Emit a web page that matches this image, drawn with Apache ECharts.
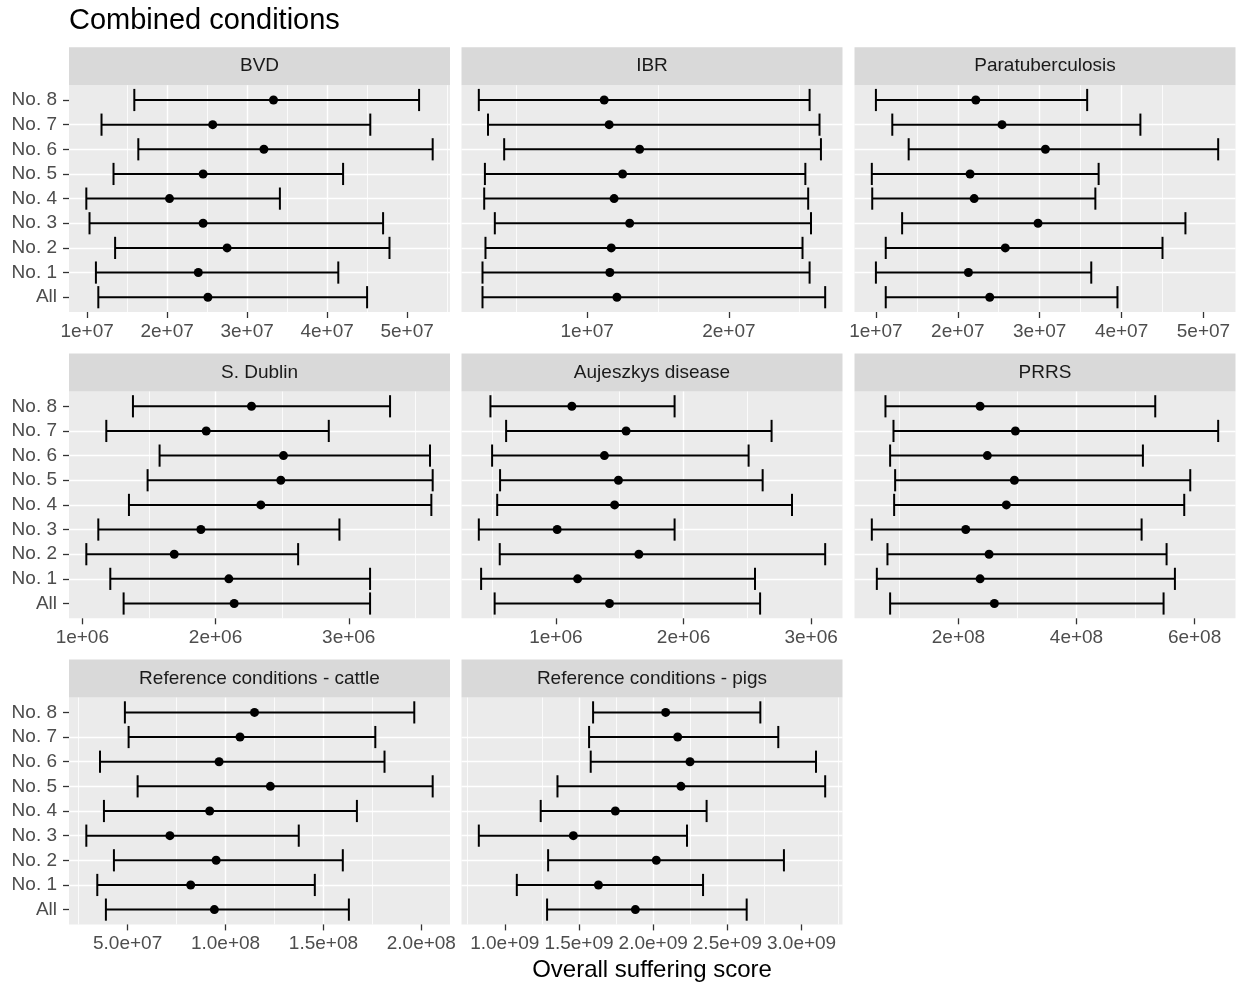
<!DOCTYPE html>
<html><head><meta charset="utf-8">
<script src="https://cdn.jsdelivr.net/npm/echarts@6/dist/echarts.min.js"></script>
<style>html,body{margin:0;padding:0;background:#fff}#chart{width:1242px;height:988px}</style>
</head><body><div id="chart"></div>
<script>
// ---------------- data ----------------
const categories = ['All', 'No. 1', 'No. 2', 'No. 3', 'No. 4', 'No. 5', 'No. 6', 'No. 7', 'No. 8'];
const panelNames = ['BVD', 'IBR', 'Paratuberculosis', 'S. Dublin', 'Aujeszkys disease', 'PRRS',
  'Reference conditions - cattle', 'Reference conditions - pigs'];

const bvdLow  = [1.14e7, 1.11e7, 1.35e7, 1.03e7, 0.99e7, 1.33e7, 1.64e7, 1.18e7, 1.59e7];
const bvdMid  = [2.51e7, 2.39e7, 2.75e7, 2.45e7, 2.03e7, 2.45e7, 3.21e7, 2.57e7, 3.33e7];
const bvdHigh = [4.50e7, 4.14e7, 4.78e7, 4.70e7, 3.41e7, 4.20e7, 5.32e7, 4.54e7, 5.15e7];

const ibrLow  = [0.261e7, 0.261e7, 0.282e7, 0.348e7, 0.273e7, 0.278e7, 0.414e7, 0.300e7, 0.235e7];
const ibrMid  = [1.21e7, 1.16e7, 1.17e7, 1.30e7, 1.19e7, 1.25e7, 1.37e7, 1.155e7, 1.12e7];
const ibrHigh = [2.68e7, 2.57e7, 2.52e7, 2.58e7, 2.56e7, 2.54e7, 2.65e7, 2.64e7, 2.57e7];

const paraLow  = [1.12e7, 1.00e7, 1.12e7, 1.32e7, 0.955e7, 0.95e7, 1.40e7, 1.20e7, 1.00e7];
const paraMid  = [2.39e7, 2.13e7, 2.58e7, 2.98e7, 2.20e7, 2.15e7, 3.07e7, 2.54e7, 2.22e7];
const paraHigh = [3.95e7, 3.63e7, 4.50e7, 4.78e7, 3.68e7, 3.72e7, 5.18e7, 4.23e7, 3.58e7];

const dublinLow  = [1.31e6, 1.21e6, 1.03e6, 1.12e6, 1.35e6, 1.49e6, 1.58e6, 1.18e6, 1.38e6];
const dublinMid  = [2.14e6, 2.10e6, 1.69e6, 1.89e6, 2.34e6, 2.49e6, 2.51e6, 1.93e6, 2.27e6];
const dublinHigh = [3.16e6, 3.16e6, 2.62e6, 2.93e6, 3.62e6, 3.63e6, 3.61e6, 2.85e6, 3.31e6];

const aujLow  = [0.52e6, 0.414e6, 0.56e6, 0.396e6, 0.54e6, 0.5625e6, 0.50e6, 0.61e6, 0.487e6];
const aujMid  = [1.42e6, 1.17e6, 1.65e6, 1.01e6, 1.46e6, 1.49e6, 1.38e6, 1.55e6, 1.125e6];
const aujHigh = [2.60e6, 2.56e6, 3.11e6, 1.93e6, 2.85e6, 2.62e6, 2.51e6, 2.69e6, 1.93e6];

const prrsLow  = [0.843e8, 0.618e8, 0.798e8, 0.533e8, 0.911e8, 0.928e8, 0.843e8, 0.90e8, 0.764e8];
const prrsMid  = [2.609e8, 2.367e8, 2.519e8, 2.124e8, 2.812e8, 2.948e8, 2.49e8, 2.965e8, 2.367e8];
const prrsHigh = [5.475e8, 5.667e8, 5.526e8, 5.103e8, 5.825e8, 5.927e8, 5.125e8, 6.40e8, 5.334e8];

const cattleLow  = [0.389e8, 0.345e8, 0.43e8, 0.289e8, 0.379e8, 0.551e8, 0.359e8, 0.505e8, 0.486e8];
const cattleMid  = [0.943e8, 0.822e8, 0.952e8, 0.716e8, 0.919e8, 1.229e8, 0.967e8, 1.074e8, 1.148e8];
const cattleHigh = [1.63e8, 1.456e8, 1.599e8, 1.374e8, 1.671e8, 2.058e8, 1.812e8, 1.765e8, 1.964e8];

const pigsLow  = [1.285e9, 1.081e9, 1.292e9, 0.825e9, 1.242e9, 1.355e9, 1.579e9, 1.568e9, 1.595e9];
const pigsMid  = [1.88e9, 1.631e9, 2.021e9, 1.462e9, 1.745e9, 2.187e9, 2.248e9, 2.165e9, 2.084e9];
const pigsHigh = [2.63e9, 2.336e9, 2.881e9, 2.228e9, 2.36e9, 3.159e9, 3.097e9, 2.843e9, 2.722e9];

// tick step and number of mantissa digits for each panel's x labels
const tickStep   = [1e7, 1e7, 1e7, 1e6, 1e6, 2e8, 5e7, 5e8];
const tickDigits = [0, 0, 0, 0, 0, 0, 1, 1];

const titleText = 'Combined conditions';
const xAxisTitle = 'Overall suffering score';

// ---------------- layout ----------------
const lows  = [bvdLow, ibrLow, paraLow, dublinLow, aujLow, prrsLow, cattleLow, pigsLow];
const mids  = [bvdMid, ibrMid, paraMid, dublinMid, aujMid, prrsMid, cattleMid, pigsMid];
const highs = [bvdHigh, ibrHigh, paraHigh, dublinHigh, aujHigh, prrsHigh, cattleHigh, pigsHigh];

const FONT = '"Liberation Sans", Arial, Helvetica, sans-serif';
const colLeft = [69, 461.5, 854.5];
const colWidth = 381;
const rowTop = [85.2, 391.5, 697.6];
const plotH = 226.8;
const stripH = 38;
const capHalf = 0.45;

function sciLabel(v, d) {
  if (v === 0) return '0';
  const e = Math.floor(Math.log10(Math.abs(v)) + 1e-9);
  const m = v / Math.pow(10, e);
  return m.toFixed(d) + 'e' + (e < 0 ? '-' : '+') + String(Math.abs(e)).padStart(2, '0');
}

const grids = [], xAxes = [], yAxes = [], series = [], graphics = [];
const yVals = categories.map((c, i) => i);

panelNames.forEach((name, p) => {
  const r = Math.floor(p / 3), c = p % 3;
  const left = colLeft[c], top = rowTop[r];
  grids.push({
    left: left, top: top, width: colWidth, height: plotH,
    show: true, backgroundColor: '#ebebeb', borderWidth: 0,
    containLabel: false, outerBoundsMode: 'none'
  });
  const lo = Math.min(...lows[p]), hi = Math.max(...highs[p]);
  const pad = (hi - lo) * 0.05;
  const xmin = lo - pad, xmax = hi + pad;
  const step = tickStep[p];
  const ticks = [];
  for (let t = Math.ceil(xmin / step - 1e-9) * step; t <= xmax + 1e-9 * step; t += step) ticks.push(t);
  const d = tickDigits[p];
  xAxes.push({
    type: 'value', gridIndex: p, min: xmin, max: xmax, position: 'bottom',
    minInterval: step, maxInterval: step,
    axisLine: { show: false, onZero: false },
    axisTick: { show: true, length: 6, customValues: ticks, lineStyle: { color: '#333333', width: 1.3 } },
    axisLabel: {
      show: true, customValues: ticks, margin: 10, color: '#4d4d4d', fontSize: 19, fontFamily: FONT,
      showMinLabel: true, showMaxLabel: true, hideOverlap: false,
      formatter: v => {
        const k = v / step;
        return Math.abs(k - Math.round(k)) < 1e-6 ? sciLabel(v, d) : '';
      }
    },
    splitLine: { show: true, showMinLine: false, showMaxLine: false, lineStyle: { color: '#ffffff', width: 1.4 } },
    minorTick: { show: false, splitNumber: 2 },
    minorSplitLine: { show: true, lineStyle: { color: '#ffffff', width: 0.8 } }
  });
  yAxes.push({
    type: 'value', gridIndex: p, min: -0.6, max: categories.length - 1 + 0.6, position: 'left',
    minInterval: 1, maxInterval: 1,
    axisLine: { show: false, onZero: false },
    axisTick: { show: c === 0, length: 6, customValues: yVals, lineStyle: { color: '#333333', width: 1.3 } },
    axisLabel: {
      show: c === 0, customValues: yVals, margin: 12, color: '#4d4d4d', fontSize: 19, fontFamily: FONT,
      formatter: v => {
        const k = Math.round(v);
        return Math.abs(v - k) < 1e-6 && categories[k] != null ? categories[k] : '';
      }
    },
    splitLine: { show: true, showMinLine: false, showMaxLine: false, lineStyle: { color: '#ffffff', width: 1.4 } }
  });
  series.push({
    type: 'custom', xAxisIndex: p, yAxisIndex: p,
    encode: { x: [0, 1], y: 2 },
    data: lows[p].map((v, i) => [v, highs[p][i], i]),
    renderItem: function (params, api) {
      const a = api.coord([api.value(0), api.value(2)]);
      const b = api.coord([api.value(1), api.value(2)]);
      const yT = api.coord([api.value(0), api.value(2) + capHalf])[1];
      const yB = api.coord([api.value(0), api.value(2) - capHalf])[1];
      const style = { stroke: '#000000', lineWidth: 2 };
      return {
        type: 'group', children: [
          { type: 'line', shape: { x1: a[0], y1: a[1], x2: b[0], y2: b[1] }, style: style },
          { type: 'line', shape: { x1: a[0], y1: yT, x2: a[0], y2: yB }, style: style },
          { type: 'line', shape: { x1: b[0], y1: yT, x2: b[0], y2: yB }, style: style }
        ]
      };
    },
    silent: true, animation: false
  });
  series.push({
    type: 'scatter', xAxisIndex: p, yAxisIndex: p,
    data: mids[p].map((v, i) => [v, i]),
    symbol: 'circle', symbolSize: 9,
    itemStyle: { color: '#000000', opacity: 1 },
    silent: true, animation: false, z: 3
  });
  graphics.push({
    type: 'rect', silent: true,
    shape: { x: left, y: top - stripH, width: colWidth, height: stripH },
    style: { fill: '#d9d9d9' }
  });
  graphics.push({
    type: 'text', silent: true,
    x: left + colWidth / 2, y: top - stripH / 2,
    style: { text: name, fill: '#1a1a1a', font: '19px ' + FONT, align: 'center', verticalAlign: 'middle' }
  });
});

graphics.push({
  type: 'text', silent: true, x: 652, y: 970,
  style: { text: xAxisTitle, fill: '#000000', font: '24px ' + FONT, align: 'center', verticalAlign: 'middle' }
});

const chart = echarts.init(document.getElementById('chart'), null, { renderer: 'canvas' });
chart.setOption({
  animation: false,
  backgroundColor: '#ffffff',
  title: {
    text: titleText, left: 69, top: 6, padding: 0,
    textStyle: { fontFamily: FONT, fontSize: 29, fontWeight: 'normal', color: '#000000' }
  },
  grid: grids,
  xAxis: xAxes,
  yAxis: yAxes,
  series: series,
  graphic: graphics
});
</script>
</body></html>
